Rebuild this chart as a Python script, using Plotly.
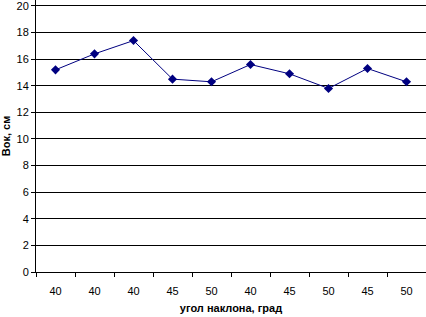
import plotly.graph_objects as go

angle_labels = ["40", "40", "40", "45", "50", "40", "45", "50", "45", "50"]
bok_values = [15.2, 16.4, 17.4, 14.5, 14.3, 15.6, 14.9, 13.8, 15.3, 14.3]
y_ticks = [0, 2, 4, 6, 8, 10, 12, 14, 16, 18, 20]
positions = list(range(len(angle_labels)))

fig = go.Figure()
fig.add_trace(go.Scatter(
    x=positions, y=bok_values, mode="lines+markers",
    line=dict(color="#000080", width=1),
    marker=dict(symbol="diamond", size=7, color="#000080"),
    showlegend=False, cliponaxis=False,
))

font = dict(family="Liberation Sans, Arial, sans-serif", size=11, color="black")
fig.update_layout(
    width=426, height=317,
    margin=dict(l=36, r=0, t=0, b=45, autoexpand=False),
    paper_bgcolor="white", plot_bgcolor="white",
    font=font,
    xaxis=dict(
        range=[-0.5, 9.5], tickvals=positions, ticktext=angle_labels,
        ticks="outside", ticklen=9, tickcolor="rgba(0,0,0,0)",
        showgrid=False, zeroline=False, automargin=False,
        showline=True, linecolor="black", linewidth=1,
        minor=dict(tick0=0.5, dtick=1, ticks="outside", ticklen=4, tickcolor="black", showgrid=False),
        title=dict(text="<b>угол наклона, град</b>", font=dict(size=11), standoff=8),
        tickfont=dict(size=11),
    ),
    yaxis=dict(
        range=[0, 20.45], tickvals=y_ticks, ticktext=[str(v) for v in y_ticks],
        ticks="outside", ticklen=4, tickcolor="black", automargin=False,
        ticklabeloverflow="allow",
        showgrid=True, gridcolor="black", gridwidth=1,
        zeroline=False, showline=True, linecolor="black", linewidth=1,
        title=dict(text="<b>Вок, см</b>", font=dict(size=11), standoff=6),
        tickfont=dict(size=11),
    ),
)
fig.write_html("out.html", config={"displayModeBar": False},
               post_script="document.body.style.margin='0';")
